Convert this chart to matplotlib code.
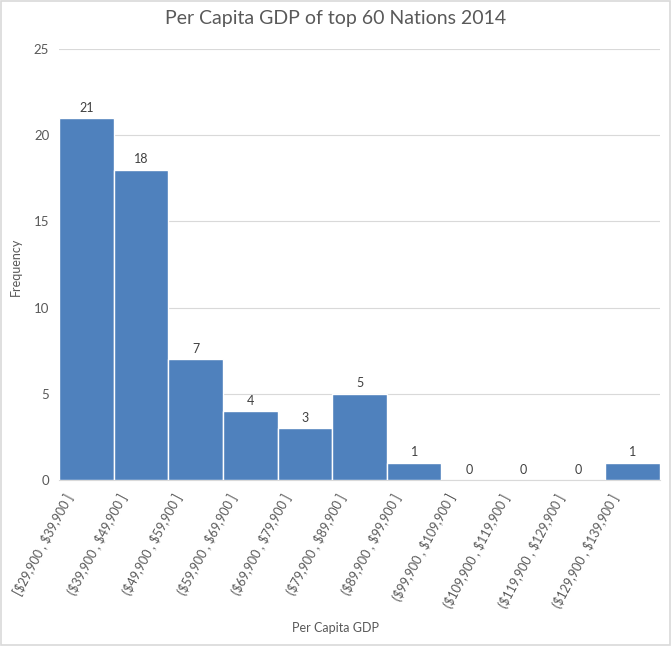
import matplotlib.pyplot as plt
import matplotlib.transforms as mtransforms
from matplotlib.patches import Rectangle

# Histogram bins (upper edges) and counts
bin_edges = [29900, 39900, 49900, 59900, 69900, 79900, 89900, 99900,
             109900, 119900, 129900, 139900]
counts = [21, 18, 7, 4, 3, 5, 1, 0, 0, 0, 1]

labels = []
for i in range(len(counts)):
    lo, hi = bin_edges[i], bin_edges[i + 1]
    left = "[" if i == 0 else "("
    labels.append(f"{left}\\${lo:,} , \\${hi:,} ]")

plt.rcParams['font.family'] = ['Lato', 'DejaVu Sans']
TEXT = '#595959'

fig = plt.figure(figsize=(6.71, 6.46), dpi=100)
ax = fig.add_axes([0.0879, 0.2570, 0.8957, 0.6671])

x = list(range(len(counts)))
ax.bar(x, counts, width=1.0, color='#4F81BD', edgecolor='white',
       linewidth=1.0, zorder=3)

for xi, c in zip(x, counts):
    ax.text(xi, c + 0.25, str(c), ha='center', va='bottom',
            fontsize=9, color='#404040')

ax.set_xlim(-0.5, len(counts) - 0.5)
ax.set_ylim(0, 25)
ax.set_yticks(range(0, 26, 5))
ax.yaxis.grid(True, color='#D9D9D9', linewidth=0.8, zorder=0)
ax.set_axisbelow(True)
for s in ['top', 'right', 'left']:
    ax.spines[s].set_visible(False)
ax.spines['bottom'].set_color('#D9D9D9')
ax.tick_params(axis='both', length=0, labelcolor=TEXT)
ax.tick_params(axis='y', pad=7, labelsize=9.5)
ax.tick_params(axis='x', labelsize=9)

ax.set_xticks(x)
ax.set_xticklabels(labels, rotation=62, ha='right', va='top')
offset = mtransforms.ScaledTranslation(-11 / 100, -7 / 100, fig.dpi_scale_trans)
for lab in ax.get_xticklabels():
    lab.set_transform(lab.get_transform() + offset)

fig.text(0.5, 0.972, "Per Capita GDP of top 60 Nations 2014", ha='center',
         va='center', fontsize=14, color=TEXT)
fig.text(0.5, 1 - 628 / 646, "Per Capita GDP", ha='center', va='center',
         fontsize=9, color=TEXT)
fig.text(16 / 671, 1 - 267 / 646, "Frequency", ha='center', va='center',
         rotation=90, fontsize=9, color=TEXT)

fig.patches.append(Rectangle((0.002, 0.002), 0.996, 0.996, transform=fig.transFigure,
                             fill=False, edgecolor='#D9D9D9', linewidth=1.2))

fig.savefig('out.png', dpi=100)
